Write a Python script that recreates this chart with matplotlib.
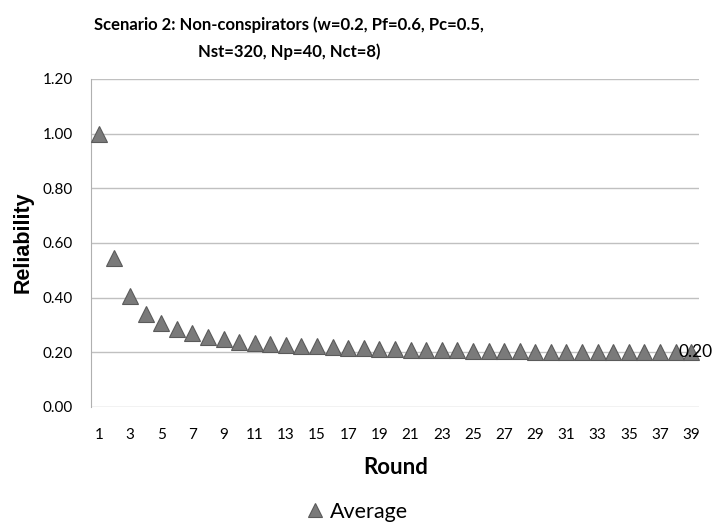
import matplotlib
matplotlib.use("Agg")
import matplotlib.pyplot as plt

rounds = list(range(1, 40))
average = [1.00, 0.545, 0.405, 0.340, 0.306, 0.285, 0.271, 0.257, 0.247, 0.239,
           0.235, 0.232, 0.228, 0.224, 0.222, 0.219, 0.217, 0.215, 0.213, 0.211,
           0.210, 0.209, 0.208, 0.207, 0.206, 0.205, 0.204, 0.204, 0.203, 0.203,
           0.202, 0.202, 0.202, 0.201, 0.201, 0.201, 0.200, 0.200, 0.200]
yticks = [0.0, 0.2, 0.4, 0.6, 0.8, 1.0, 1.2]
title = "Scenario 2: Non-conspirators (w=0.2, Pf=0.6, Pc=0.5,\nNst=320, Np=40, Nct=8)"

plt.rcParams['font.family'] = ['Lato', 'DejaVu Sans']

fig = plt.figure(figsize=(7.13, 5.26), dpi=100)
ax = fig.add_axes([91/713, (526-407)/526, (699-91)/713, (407-79)/526])

ax.plot(rounds, average, linestyle='none', marker='^', markersize=11,
        markerfacecolor='#7a7a7a', markeredgecolor='#5a5a5a', markeredgewidth=0.8,
        zorder=3, clip_on=False)

ax.annotate(f"{average[-1]:.2f}", (rounds[-1], average[-1]), xytext=(-9, 0),
            textcoords='offset points', ha='left', va='center', fontsize=12.5,
            color='black', annotation_clip=False, zorder=4)

ax.set_xlim(0.5, 39.5)
ax.set_ylim(0, 1.2)
ax.set_yticks(yticks)
ax.set_yticklabels([f"{v:.2f}" for v in yticks], fontsize=11)
ax.set_xticks(rounds[::2])
ax.set_xticklabels([str(r) for r in rounds[::2]], fontsize=11)
ax.tick_params(axis='x', length=0, pad=15)
ax.tick_params(axis='y', length=0, pad=13)
ax.grid(axis='y', color='#c0c0c0', linewidth=1)
ax.set_axisbelow(True)
for s in ['top', 'right', 'bottom']:
    ax.spines[s].set_visible(False)
ax.spines['left'].set_color('#b0b0b0')

ax.set_ylabel("Reliability", fontsize=15.5, fontweight='bold',
              family=['Liberation Sans', 'DejaVu Sans'])
ax.yaxis.set_label_coords(23/713, 1 - 242/526, transform=fig.transFigure)
ax.set_xlabel("Round", fontsize=16, fontweight='bold')
ax.xaxis.set_label_coords(396/713, 1 - 468/526, transform=fig.transFigure)
ax.xaxis.label.set_va('center')
ax.yaxis.label.set_va('center')

fig.text(289/713, 1 - 38/526, title, ha='center', va='center', fontsize=12,
         fontweight='bold', multialignment='center', linespacing=1.75)

leg = fig.legend([ax.lines[0]], ["Average"], loc='center', bbox_to_anchor=(357/713, 1 - 512/526),
                 frameon=False, fontsize=15.5, handlelength=0.8, handletextpad=0.3, markerscale=0.9)

fig.savefig("out.png", dpi=100)
